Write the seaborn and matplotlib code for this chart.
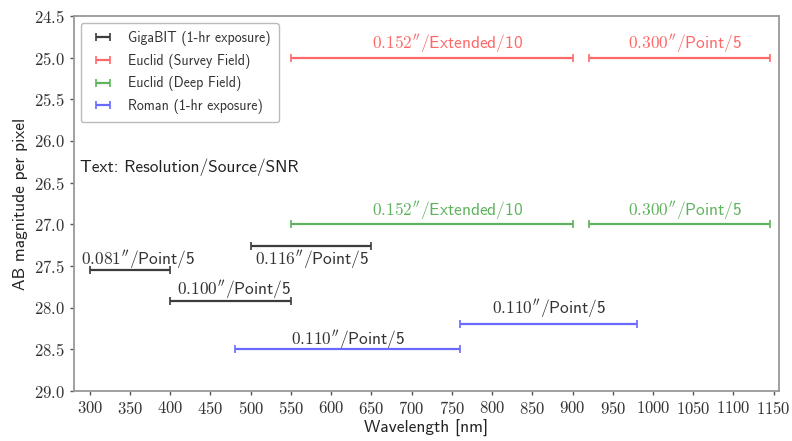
import matplotlib
matplotlib.use("Agg")
import matplotlib.pyplot as plt
from matplotlib.ticker import FixedLocator, FuncFormatter
import seaborn as sns
import pandas as pd

# Wavelength coverage [nm] and per-pixel depth [AB mag] for each configuration
gigabit_lo = [300, 400, 500]
gigabit_hi = [400, 550, 650]
gigabit_mag = [27.55, 27.92, 27.26]
gigabit_txt = [r"$0.081''$/Point/5", r"$0.100''$/Point/5", r"$0.116''$/Point/5"]
gigabit_txt_x = [360, 480, 576]
gigabit_txt_y = [27.42, 27.78, 27.42]

euclid_lo = [550, 920]
euclid_hi = [900, 1145]
euclid_survey_mag = [25.0, 25.0]
euclid_deep_mag = [27.0, 27.0]
euclid_txt = [r"$0.152''$/Extended/10", r"$0.300''$/Point/5"]
euclid_txt_x = [745, 1040]
euclid_survey_txt_y = [24.84, 24.84]
euclid_deep_txt_y = [26.84, 26.84]

roman_lo = [480, 760]
roman_hi = [760, 980]
roman_mag = [28.5, 28.2]
roman_txt = [r"$0.110''$/Point/5", r"$0.110''$/Point/5"]
roman_txt_x = [621, 871]
roman_txt_y = [28.38, 28.01]

x_ticks = [300, 350, 400, 450, 500, 550, 600, 650, 700, 750, 800, 850, 900,
           950, 1000, 1050, 1100, 1150]
y_ticks = [24.5, 25.0, 25.5, 26.0, 26.5, 27.0, 27.5, 28.0, 28.5, 29.0]

sns.set_theme(style="ticks")
plt.rcParams["font.family"] = ["cmss10", "DejaVu Sans"]
plt.rcParams["mathtext.fontset"] = "cm"
plt.rcParams["axes.formatter.use_mathtext"] = True

palette = {
    "GigaBIT (1-hr exposure)": "#3c3c3c",
    "Euclid (Survey Field)": "#ff6868",
    "Euclid (Deep Field)": "#5fb35f",
    "Roman (1-hr exposure)": "#6a6aff",
}

rows = []
for lo, hi, m, t, tx, ty in zip(gigabit_lo, gigabit_hi, gigabit_mag, gigabit_txt, gigabit_txt_x, gigabit_txt_y):
    rows.append(("GigaBIT (1-hr exposure)", lo, hi, m, t, tx, ty, "#333333"))
for lo, hi, m, t, tx, ty in zip(euclid_lo, euclid_hi, euclid_survey_mag, euclid_txt, euclid_txt_x, euclid_survey_txt_y):
    rows.append(("Euclid (Survey Field)", lo, hi, m, t, tx, ty, palette["Euclid (Survey Field)"]))
for lo, hi, m, t, tx, ty in zip(euclid_lo, euclid_hi, euclid_deep_mag, euclid_txt, euclid_txt_x, euclid_deep_txt_y):
    rows.append(("Euclid (Deep Field)", lo, hi, m, t, tx, ty, palette["Euclid (Deep Field)"]))
for lo, hi, m, t, tx, ty in zip(roman_lo, roman_hi, roman_mag, roman_txt, roman_txt_x, roman_txt_y):
    rows.append(("Roman (1-hr exposure)", lo, hi, m, t, tx, ty, "#333333"))

df = pd.DataFrame(rows, columns=["instrument", "lo", "hi", "mag", "text", "tx", "ty", "tcolor"])
df["mid"] = (df["lo"] + df["hi"]) / 2
df["half"] = (df["hi"] - df["lo"]) / 2

fig = plt.figure(figsize=(7.92, 4.41), dpi=100)
ax = fig.add_axes([0.093, 0.113, 0.891, 0.851])

for name, grp in df.groupby("instrument", sort=False):
    ax.errorbar(grp["mid"], grp["mag"], xerr=grp["half"], fmt="none",
                ecolor=palette[name], elinewidth=1.6, capsize=3, capthick=1.2,
                label=name)
    for _, r in grp.iterrows():
        ax.text(r["tx"], r["ty"], r["text"], ha="center", va="center",
                fontsize=12.5, color=r["tcolor"])

ax.text(288, 26.32, "Text: Resolution/Source/SNR", ha="left", va="center",
        fontsize=12.5, color="#222222")

ax.set_xlim(280, 1157)
ax.set_ylim(29.0, 24.5)
ax.xaxis.set_major_locator(FixedLocator(x_ticks))
ax.yaxis.set_major_locator(FixedLocator(y_ticks))
ax.xaxis.set_major_formatter(FuncFormatter(lambda v, p: f"${v:.0f}$"))
ax.yaxis.set_major_formatter(FuncFormatter(lambda v, p: f"${v:.1f}$"))
ax.tick_params(axis="both", labelsize=12, colors="#555555", labelcolor="#333333",
               length=3, width=1)
for s in ax.spines.values():
    s.set_color("#999999")
    s.set_linewidth(1.3)

ax.set_xlabel("Wavelength [nm]", fontsize=12.5, color="#222222", labelpad=2)
ax.set_ylabel("AB magnitude per pixel", fontsize=12.5, color="#222222", labelpad=4)

leg = ax.legend(loc="upper left", fontsize=10, frameon=True, fancybox=True,
                edgecolor="#aaaaaa", borderpad=0.6, labelspacing=0.55,
                handlelength=2.0, bbox_to_anchor=(0.0, 1.0))
for t in leg.get_texts():
    t.set_color("#333333")

fig.savefig("out.png", dpi=100)
